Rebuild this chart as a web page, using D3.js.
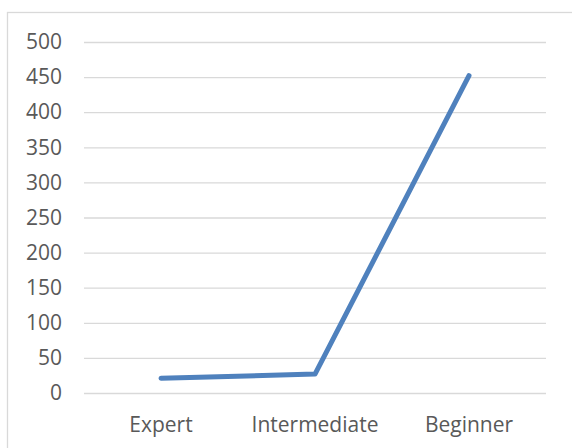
<!DOCTYPE html>
<html>
<head>
<meta charset="utf-8">
<script src="https://cdn.jsdelivr.net/npm/d3@7"></script>
<style>
  html, body { margin: 0; padding: 0; background: #fff; }
  svg { display: block; }
  text { font-family: "Open Sans", "DejaVu Sans", sans-serif; }
</style>
</head>
<body>
<svg id="chart" width="572" height="448"></svg>
<script>
// Learners per skill level
const categories = ["Expert", "Intermediate", "Beginner"];
const values = [21, 27, 452];
const yTicks = [0, 50, 100, 150, 200, 250, 300, 350, 400, 450, 500];

const svg = d3.select("#chart");
const W = 572, H = 448;
const plot = { left: 84, right: 546, top: 42, bottom: 393 };

// chart frame
svg.append("rect")
  .attr("x", 7.5).attr("y", 12.5)
  .attr("width", W + 10).attr("height", H + 10)
  .attr("fill", "#fff")
  .attr("stroke", "#d9d9d9").attr("stroke-width", 1.3);

const x = d3.scaleBand().domain(categories).range([plot.left, plot.right]);
const y = d3.scaleLinear().domain([0, 500]).range([plot.bottom, plot.top]);

// horizontal gridlines + value labels
const yAxis = d3.axisLeft(y).tickValues(yTicks).tickSize(-(plot.right - plot.left)).tickPadding(22);
const gy = svg.append("g").attr("transform", `translate(${plot.left},0)`).call(yAxis);
gy.select(".domain").remove();
gy.selectAll(".tick line").attr("stroke", "#d9d9d9").attr("stroke-width", 1.3);
gy.selectAll(".tick text").attr("fill", "#595959").attr("font-size", 21).style("font-size", "21px");

// category labels
const xAxis = d3.axisBottom(x).tickSize(0).tickPadding(24);
const gx = svg.append("g").attr("transform", `translate(0,${plot.bottom})`).call(xAxis);
gx.select(".domain").remove();
gx.selectAll(".tick text").attr("fill", "#595959").attr("font-size", 21).style("font-size", "21px");

// series line
const line = d3.line()
  .x((d, i) => x(categories[i]) + x.bandwidth() / 2)
  .y(d => y(d));

svg.append("path")
  .datum(values)
  .attr("d", line)
  .attr("fill", "none")
  .attr("stroke", "#4f81bd")
  .attr("stroke-width", 5)
  .attr("stroke-linecap", "round")
  .attr("stroke-linejoin", "round");
</script>
</body>
</html>
